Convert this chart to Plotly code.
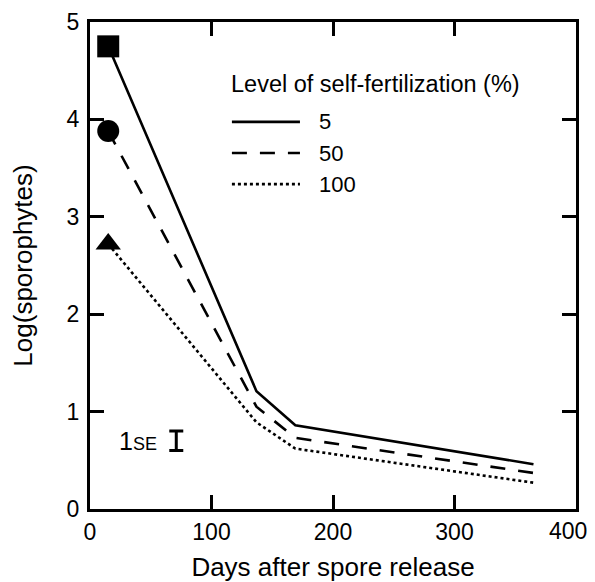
import plotly.graph_objects as go

days = [15, 137, 169, 365]
self5 = [4.75, 1.21, 0.86, 0.46]
self50 = [3.88, 1.05, 0.73, 0.37]
self100 = [2.72, 0.89, 0.62, 0.27]
series_names = ["5", "50", "100"]
legend_title = "Level of self-fertilization (%)"
se_x = [71]
se_y = [0.70]
se_half = [0.10]
x_ticks = [0, 100, 200, 300, 400]
x_tick_text = ["0", "100", "200", "300", ""]
last_x_label = "400"
y_ticks = [0, 1, 2, 3, 4, 5]

FONT = "Liberation Sans, Arial, Helvetica, sans-serif"
LW = 2.6
PAGE_OFFSET = 8  # default body margin of the html page

fig = go.Figure()
styles = [
    (self5, "solid", "square"),
    (self50, "15px,13px", "circle"),
    (self100, "3px,3px", "triangle-up"),
]
for vals, dash, sym in styles:
    fig.add_trace(go.Scatter(x=days, y=vals, mode="lines",
                             line=dict(color="black", width=LW, dash=dash),
                             showlegend=False, hoverinfo="skip"))
    fig.add_trace(go.Scatter(x=days[:1], y=vals[:1], mode="markers",
                             marker=dict(symbol=sym, size=22, color="black"),
                             showlegend=False, hoverinfo="skip"))

# 1 SE bar
fig.add_trace(go.Scatter(x=se_x, y=se_y, mode="markers",
                         marker=dict(size=1, color="rgba(0,0,0,0)"),
                         error_y=dict(type="data", array=se_half, visible=True,
                                      color="black", thickness=3, width=7),
                         showlegend=False, hoverinfo="skip"))
fig.add_annotation(x=se_x[0] - 14, y=se_y[0], xref="x", yref="y",
                   text="1<span style='font-size:18px'>SE</span>",
                   showarrow=False, xanchor="right", yanchor="middle",
                   font=dict(family=FONT, size=25, color="black"))

# Legend drawn as shapes + text
legend_rows = [(0.795, "solid"), (0.731, "15px,13px"), (0.667, "3px,3px")]
for (py, dash), name in zip(legend_rows, series_names):
    fig.add_shape(type="line", xref="paper", yref="paper",
                  x0=0.292, x1=0.432, y0=py, y1=py,
                  line=dict(color="black", width=LW, dash=dash))
    fig.add_annotation(x=0.467, y=py, xref="paper", yref="paper", text=name,
                       showarrow=False, xanchor="left", yanchor="middle",
                       font=dict(family=FONT, size=22, color="black"))
fig.add_annotation(x=0.287, y=0.873, xref="paper", yref="paper", text=legend_title,
                   showarrow=False, xanchor="left", yanchor="middle",
                   font=dict(family=FONT, size=23.5, color="black"))

# last x tick label, nudged left so it stays inside the page
fig.add_annotation(x=x_ticks[-1], y=-0.045, xref="x", yref="paper", text=last_x_label,
                   showarrow=False, xanchor="center", yanchor="middle", xshift=-8,
                   font=dict(family=FONT, size=23, color="black"))

axis_common = dict(showline=True, linecolor="black", linewidth=3, mirror="ticks",
                   ticks="inside", ticklen=14, tickwidth=3, tickcolor="black",
                   showgrid=False, zeroline=False, automargin=False,
                   tickfont=dict(family=FONT, size=23, color="black"))
fig.update_xaxes(range=[0, 400], tickvals=x_ticks, ticktext=x_tick_text,
                 title=dict(text="Days after spore release", standoff=21,
                            font=dict(family=FONT, size=26, color="black")),
                 **axis_common)
fig.update_yaxes(range=[0, 5], tickvals=y_ticks, ticktext=[str(v) for v in y_ticks],
                 ticklabelstandoff=3,
                 title=dict(text="Log(sporophytes)", standoff=28,
                            font=dict(family=FONT, size=26, color="black")),
                 **axis_common)
fig.update_layout(width=595 - PAGE_OFFSET, height=582 - PAGE_OFFSET,
                  plot_bgcolor="white", paper_bgcolor="white",
                  margin=dict(l=90 - PAGE_OFFSET, r=19, t=22 - PAGE_OFFSET, b=73),
                  showlegend=False)

fig.write_html("out.html")
